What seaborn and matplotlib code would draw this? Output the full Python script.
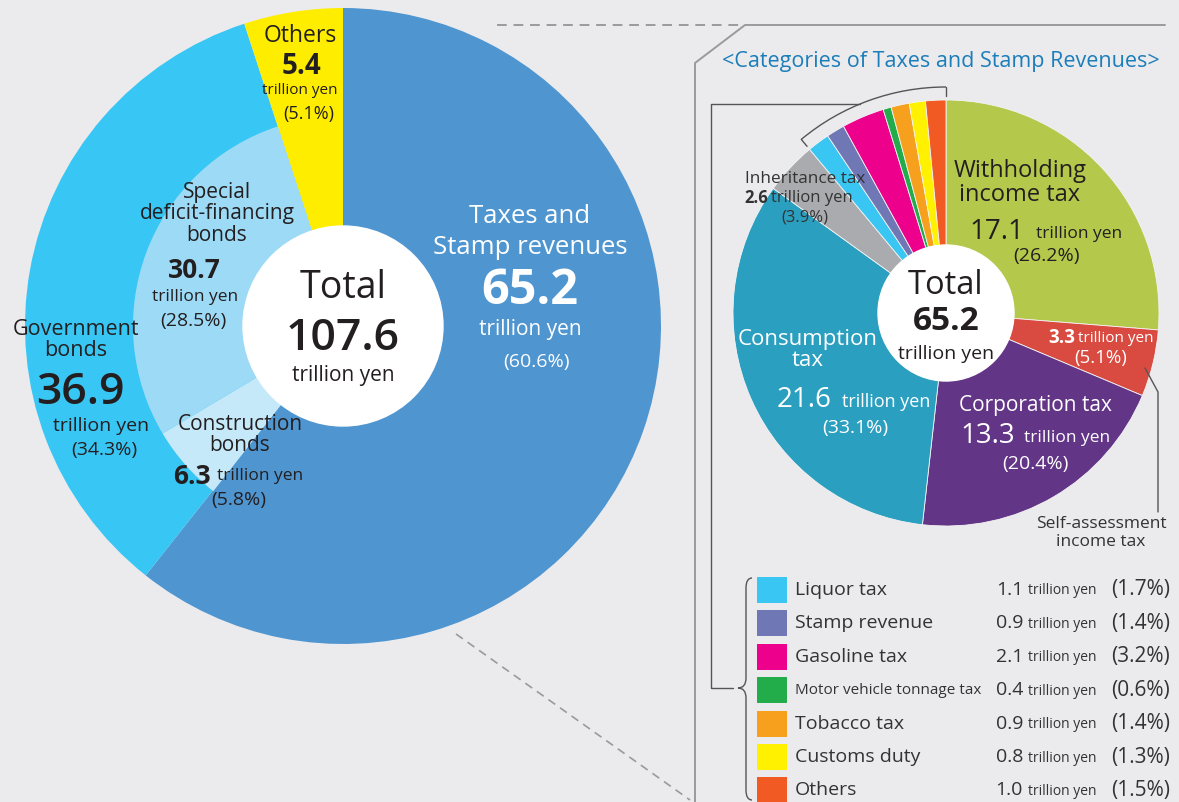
import numpy as np
import matplotlib.pyplot as plt
import seaborn as sns
from matplotlib.patches import Circle, Rectangle, Arc, PathPatch
from matplotlib.path import Path

# ----------------------------- Data (trillion yen) -----------------------------
main_labels = ['Taxes and Stamp revenues', 'Government bonds', 'Others']
main_values = [65.2, 36.9, 5.4]
main_pcts = [60.6, 34.3, 5.1]
main_total = 107.6

bond_labels = ['Construction bonds', 'Special deficit-financing bonds']
bond_values = [6.3, 30.7]
bond_pcts = [5.8, 28.5]

tax_labels = ['Withholding income tax', 'Self-assessment income tax', 'Corporation tax',
              'Consumption tax', 'Inheritance tax', 'Liquor tax', 'Stamp revenue',
              'Gasoline tax', 'Motor vehicle tonnage tax', 'Tobacco tax', 'Customs duty', 'Others']
tax_values = [17.1, 3.3, 13.3, 21.6, 2.6, 1.1, 0.9, 2.1, 0.4, 0.9, 0.8, 1.0]
tax_pcts = [26.2, 5.1, 20.4, 33.1, 3.9, 1.7, 1.4, 3.2, 0.6, 1.4, 1.3, 1.5]
tax_total = 65.2

# ----------------------------- Style -----------------------------
main_colors = ['#4F95D0', '#38C6F4', '#FFED00']
bond_colors = ['#C6E9F9', '#9DDAF6']
tax_colors = ['#B4C84B', '#D94A40', '#623586', '#2B9FBF', '#AAABAE', '#3AC6F2',
              '#6F77B5', '#EC008C', '#22AD4A', '#F6A01D', '#FFF100', '#F15A22']

sns.set_theme(style='white')
plt.rcParams['font.family'] = ['Open Sans', 'DejaVu Sans']

BG = '#EBEBEE'
DARK = '#231F20'
W, H = 1179, 802


def Y(y):
    return H - y


fig = plt.figure(figsize=(W / 100, H / 100), dpi=100)
fig.patch.set_facecolor(BG)
ax = fig.add_axes([0, 0, 1, 1])
ax.set_facecolor(BG)


def txt(x, y, s, size, color=DARK, weight='normal', ha='center', **kw):
    ax.text(x, Y(y), s, fontsize=size, color=color, fontweight=weight,
            ha=ha, va='center', **kw)


# ----------------------------- Left: total revenue -----------------------------
c1 = (343, Y(326))
ax.pie(main_values, colors=main_colors, startangle=90, counterclock=False,
       center=c1, radius=318, wedgeprops=dict(linewidth=0))
ax.pie([main_values[0]] + bond_values + [main_values[2]],
       colors=['none'] + bond_colors + ['none'], startangle=90, counterclock=False,
       center=c1, radius=210, wedgeprops=dict(width=110, linewidth=0))
ax.add_patch(Circle(c1, 100, color='white', zorder=3))

txt(343, 288, 'Total', 27, zorder=4)
txt(343, 338, f'{main_total:.1f}', 32, weight='semibold', zorder=4)
txt(343, 375, 'trillion yen', 15, zorder=4)

txt(530, 232, 'Taxes and\nStamp revenues', 18.5, color='white', linespacing=1.3)
txt(530, 292, f'{main_values[0]:.1f}', 35, color='white', weight='bold')
txt(530, 330, 'trillion yen', 15, color='white')
txt(536, 362, f'({main_pcts[0]:.1f}%)', 14, color='white')

txt(300, 36, 'Others', 16.5)
txt(301, 67, f'{main_values[2]:.1f}', 20, weight='bold')
txt(300, 91, 'trillion yen', 11)
txt(309, 114, f'({main_pcts[2]:.1f}%)', 13)

txt(76, 340, 'Government\nbonds', 15.5, linespacing=1.05)
txt(80, 393, f'{main_values[1]:.1f}', 32, weight='semibold')
txt(101, 426, 'trillion yen', 14)
txt(104, 450, f'({main_pcts[1]:.1f}%)', 14)

txt(217, 214, 'Special\ndeficit-financing\nbonds', 15, linespacing=1.05)
txt(194, 271, f'{bond_values[1]:.1f}', 19, weight='bold')
txt(195, 297, 'trillion yen', 12.5)
txt(193, 321, f'({bond_pcts[1]:.1f}%)', 14)

txt(240, 435, 'Construction\nbonds', 15, linespacing=1.05)
txt(211, 477, f'{bond_values[0]:.1f}', 19, weight='bold', ha='right')
txt(217, 476, 'trillion yen', 12.5, ha='left')
txt(239, 500, f'({bond_pcts[0]:.1f}%)', 14)

# ----------------------------- Frame / connectors -----------------------------
gray = '#9A9A9A'
ax.plot([497, 742], [Y(25), Y(25)], color=gray, lw=1.4, ls=(0, (5, 3.5)))
ax.plot([695, 695, 745, 1165], [Y(802), Y(63), Y(25), Y(25)], color=gray, lw=1.4)
ax.plot([456, 690], [Y(634), Y(800)], color=gray, lw=1.2, ls=(0, (5, 3.5)))

txt(941, 62, '<Categories of Taxes and Stamp Revenues>', 15.5, color='#1B7DB9')

# ----------------------------- Right: taxes breakdown -----------------------------
cx2, cy2 = 946, 313
c2 = (cx2, Y(cy2))
R2 = 213
ax.pie(tax_values, colors=tax_colors, startangle=90, counterclock=False,
       center=c2, radius=R2, wedgeprops=dict(linewidth=0.6, edgecolor='#F4F4F4'))
ax.add_patch(Circle(c2, 68, color='white', zorder=3))

txt(946, 285, 'Total', 23.5, zorder=4)
txt(946, 322, f'{tax_total:.1f}', 24, weight='bold', zorder=4)
txt(946, 354, 'trillion yen', 14, zorder=4)

txt(1020, 183, 'Withholding\nincome tax', 17, linespacing=1.05)
txt(1024, 232, f'{tax_values[0]:.1f}', 20, ha='right')
txt(1036, 234, 'trillion yen', 12.5, ha='left')
txt(1047, 256, f'({tax_pcts[0]:.1f}%)', 14)

txt(1075, 338, f'{tax_values[1]:.1f}', 13.5, color='white', weight='bold', ha='right')
txt(1078, 338, 'trillion yen', 11, color='white', ha='left')
txt(1101, 358, f'({tax_pcts[1]:.1f}%)', 13.5, color='white')

txt(1035, 405, 'Corporation tax', 15, color='white')
txt(1015, 436, f'{tax_values[2]:.1f}', 20, color='white', ha='right')
txt(1024, 438, 'trillion yen', 12.5, color='white', ha='left')
txt(1035, 464, f'({tax_pcts[2]:.1f}%)', 14, color='white')

txt(808, 350, 'Consumption\ntax', 16, color='white', linespacing=1.05)
txt(832, 400, f'{tax_values[3]:.1f}', 20, color='white', ha='right')
txt(842, 402, 'trillion yen', 13, color='white', ha='left')
txt(855, 428, f'({tax_pcts[3]:.1f}%)', 14, color='white')

txt(805, 179, 'Inheritance tax', 12.3, color='#333333')
txt(768, 198, f'{tax_values[4]:.1f}', 12, color='#333333', weight='bold', ha='right')
txt(771, 198, 'trillion yen', 12, color='#333333', ha='left')
txt(805, 218, f'({tax_pcts[4]:.1f}%)', 12, color='#333333')

txt(1101, 533, 'Self-assessment\nincome tax', 12.5, color='#333333', linespacing=1.2)
line_c = '#555555'
ax.plot([1145, 1158, 1158], [Y(368), Y(392), Y(512)], color=line_c, lw=1)

# bracket arc over the small categories
cum = np.cumsum([0] + tax_values) / sum(tax_values)
a_start = 90 - 360 * cum[5] + 360
Rb = 226
ax.add_patch(Arc(c2, 2 * Rb, 2 * Rb, theta1=90, theta2=a_start, color=line_c, lw=1))
for a in (np.radians(a_start), np.radians(90)):
    ax.plot([c2[0] + Rb * np.cos(a), c2[0] + (Rb - 9) * np.cos(a)],
            [c2[1] + Rb * np.sin(a), c2[1] + (Rb - 9) * np.sin(a)], color=line_c, lw=1)
yh = 104
xh = cx2 - np.sqrt(Rb ** 2 - (cy2 - yh) ** 2)
ax.plot([xh, 711, 711, 733], [Y(yh), Y(yh), Y(688), Y(688)], color=line_c, lw=1)

# curly brace
bx, top, mid, bot = 746, 578, 688, 800
verts = [(bx + 6, Y(top)), (bx, Y(top)), (bx, Y(top + 10)),
         (bx, Y(mid - 10)), (bx, Y(mid)), (bx - 8, Y(mid)),
         (bx, Y(mid)), (bx, Y(mid + 10)),
         (bx, Y(bot - 10)), (bx, Y(bot)), (bx + 6, Y(bot))]
codes = [Path.MOVETO, Path.CURVE3, Path.CURVE3, Path.LINETO, Path.CURVE3, Path.CURVE3,
         Path.CURVE3, Path.CURVE3, Path.LINETO, Path.CURVE3, Path.CURVE3]
ax.add_patch(PathPatch(Path(verts, codes), fill=False, color=line_c, lw=1))

# legend of small categories
for i, k in enumerate(range(5, len(tax_labels))):
    yc = 590 + i * 33.4
    ax.add_patch(Rectangle((757, Y(yc + 13)), 30, 26, color=tax_colors[k], lw=0))
    small = len(tax_labels[k]) > 20
    txt(795, yc, tax_labels[k], 11 if small else 14, color='#333333', ha='left')
    txt(1023, yc, f'{tax_values[k]:.1f}', 14, color='#333333', ha='right')
    txt(1028, yc + 1, 'trillion yen', 10, color='#333333', ha='left')
    txt(1170, yc, f'({tax_pcts[k]:.1f}%)', 15, color='#333333', ha='right')

ax.set_xlim(0, W)
ax.set_ylim(0, H)
ax.set_aspect('equal')
ax.axis('off')

fig.savefig('out.png', dpi=100, facecolor=BG)
